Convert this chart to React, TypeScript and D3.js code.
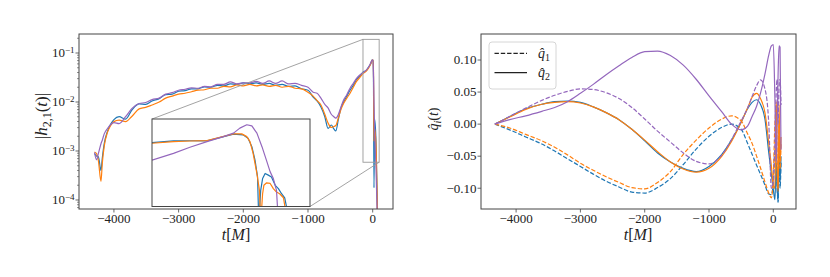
import React from "react";
import * as d3 from "d3";

// ---------- Left panel: |h_{2,1}(t)| (log scale) ----------
const tMain = [
  -4300, -4270, -4240, -4200, -4180, -4150, -4100, -4050, -4000, -3920, -3820, -3720, -3610, -3510,
  -3410, -3300, -3200, -3100, -3000, -2900, -2800, -2700, -2600, -2500, -2400, -2300, -2200, -2100,
  -2000, -1900, -1800, -1700, -1600, -1500, -1400, -1300, -1200, -1100, -1000, -920, -860, -800,
  -740, -690, -640, -600, -570, -530, -490, -450, -400, -350, -300, -250, -200, -150, -100, -60,
  -30, -10, 5, 12, 20, 30, 50, 80,
];
const ampBlue = [
  8.9e-4, 7.9e-4, 7.6e-4, 4.0e-4, 7.1e-4, 1.41e-3, 2.51e-3, 3.55e-3, 4.37e-3, 5.01e-3, 4.47e-3, 6.92e-3, 9.12e-3, 8.91e-3,
  1.05e-2, 1.17e-2, 1.41e-2, 1.45e-2, 1.66e-2, 1.70e-2, 1.86e-2, 1.86e-2, 2.04e-2, 2.0e-2, 2.19e-2, 2.14e-2, 2.34e-2, 2.29e-2,
  2.45e-2, 2.34e-2, 2.45e-2, 2.29e-2, 2.40e-2, 2.19e-2, 2.29e-2, 2.09e-2, 2.14e-2, 1.86e-2, 1.74e-2, 1.26e-2, 1.05e-2, 7.94e-3,
  5.01e-3, 2.88e-3, 3.39e-3, 2.82e-3, 2.57e-3, 4.47e-3, 7.59e-3, 1.0e-2, 1.32e-2, 1.74e-2, 2.19e-2, 2.88e-2, 3.39e-2, 4.07e-2, 4.37e-2, 5.25e-2,
  6.03e-2, 7.24e-2, 7.08e-2, 3.16e-2, 1.78e-4, 4.47e-3, 1.78e-3, 2.5e-5,
];
const ampOrange = [
  9.55e-4, 8.9e-4, 6.3e-4, 2.4e-4, 5.6e-4, 1.26e-3, 2.4e-3, 3.31e-3, 3.98e-3, 4.27e-3, 3.98e-3, 5.13e-3, 7.24e-3, 7.76e-3,
  8.71e-3, 1.0e-2, 1.2e-2, 1.32e-2, 1.45e-2, 1.51e-2, 1.62e-2, 1.74e-2, 1.78e-2, 1.91e-2, 1.91e-2, 2.09e-2, 2.04e-2, 2.24e-2,
  2.14e-2, 2.29e-2, 2.14e-2, 2.24e-2, 2.09e-2, 2.19e-2, 2.0e-2, 2.09e-2, 1.91e-2, 1.86e-2, 1.58e-2, 1.32e-2, 1.07e-2, 8.71e-3,
  5.62e-3, 3.72e-3, 3.02e-3, 3.16e-3, 3.31e-3, 4.79e-3, 7.08e-3, 9.33e-3, 1.2e-2, 1.51e-2, 2.0e-2, 2.63e-2, 3.16e-2, 3.8e-2, 4.27e-2, 5.01e-2,
  6.03e-2, 7.08e-2, 7.24e-2, 4.47e-2, 1.58e-3, 2.82e-3, 1.41e-3, 1.6e-5,
];
const ampPurple = [
  9.33e-4, 6.61e-4, 8.91e-4, 1.41e-3, 1.66e-3, 2.24e-3, 2.88e-3, 3.47e-3, 3.8e-3, 3.63e-3, 5.01e-3, 7.41e-3, 9.33e-3, 9.77e-3,
  1.12e-2, 1.2e-2, 1.45e-2, 1.55e-2, 1.74e-2, 1.82e-2, 1.95e-2, 1.91e-2, 2.09e-2, 2.04e-2, 2.29e-2, 2.29e-2, 2.57e-2, 2.34e-2,
  2.45e-2, 2.45e-2, 2.63e-2, 2.4e-2, 2.69e-2, 2.4e-2, 2.69e-2, 2.34e-2, 2.4e-2, 2.19e-2, 2.0e-2, 1.58e-2, 1.51e-2, 1.2e-2,
  8.91e-3, 7.59e-3, 5.62e-3, 5.01e-3, 4.68e-3, 5.62e-3, 7.94e-3, 1.1e-2, 1.41e-2, 1.91e-2, 2.4e-2, 3.02e-2, 3.55e-2, 3.98e-2, 4.47e-2, 5.25e-2,
  6.31e-2, 7.08e-2, 7.24e-2, 3.98e-2, 1.0e-2, 2.51e-3, 5.0e-4, 1.6e-5,
];

// Inset (zoom on merger)
const insetXDomain = [-150, 100];
const insetYDomain = [5.9e-4, 0.19];
const insetTBlue = [-150, -116, -90, -63, -21, -6, 2, 8, 13, 17, 19, 22, 25, 29, 34, 39, 45, 50, 55, 60, 66];
const insetBlue = [0.04, 0.0447, 0.0452, 0.0447, 0.0698, 0.0667, 0.0535, 0.0306, 0.0126, 0.00415, 2e-4, 0.00171, 0.00373, 0.00521, 0.00468, 0.00415, 0.00239, 0.00192, 0.00137, 0.00105, 3e-4];
const insetTOrange = [-150, -116, -90, -63, -21, -8, 0, 5, 10, 16, 20, 22, 25, 27, 31, 37, 42, 47, 52, 58, 63];
const insetOrange = [0.0384, 0.0427, 0.0445, 0.0456, 0.0711, 0.0711, 0.0594, 0.0427, 0.0197, 0.0052, 0.00171, 2e-4, 0.00137, 0.00239, 0.00279, 0.0027, 0.00192, 0.00153, 0.00137, 0.00105, 3e-4];
const insetTPurple = [-150, -116, -90, -63, -37, -21, -11, 0, 8, 16, 24, 31, 37, 42, 47, 50];
const insetPurple = [0.0126, 0.0197, 0.0294, 0.0427, 0.0594, 0.0747, 0.104, 0.13, 0.121, 0.0747, 0.0306, 0.0126, 0.0058, 0.00373, 0.00171, 2e-4];

const leftXTicks = [-4000, -3000, -2000, -1000, 0];
const leftYExponents = [-4, -3, -2, -1];

// ---------- Right panel: q_i(t) ----------
const tQ = [
  -4330, -4100, -3850, -3600, -3400, -3200, -3000, -2800, -2600, -2400, -2200, -2000, -1800, -1600,
  -1400, -1200, -1000, -800, -650, -500, -400, -330, -260, -200, -130, -70, -30, 0, 25, 45, 60, 75, 90, 105, 120,
];
const q1Blue = [
  0, -0.009, -0.02, -0.031, -0.042, -0.054, -0.066, -0.078, -0.089, -0.098, -0.106, -0.1075, -0.099, -0.085,
  -0.063, -0.039, -0.019, -0.005, 0.0, -0.008, -0.03, -0.047, -0.064, -0.078, -0.095, -0.109, -0.11, -0.09, -0.04, -0.06, -0.1, -0.122, -0.05, -0.1, -0.06,
];
const q2Blue = [
  0, 0.012, 0.024, 0.031, 0.035, 0.036, 0.034, 0.027, 0.018, 0.007, -0.008, -0.026, -0.045, -0.059,
  -0.069, -0.074, -0.066, -0.047, -0.025, 0.003, 0.024, 0.034, 0.038, 0.031, 0.008, -0.045, -0.078, -0.102, -0.118, -0.06, -0.1, -0.12, -0.03, -0.09, -0.05,
];
const q1Orange = [
  0, -0.006, -0.016, -0.026, -0.036, -0.048, -0.061, -0.072, -0.082, -0.091, -0.099, -0.101, -0.091, -0.074,
  -0.047, -0.025, -0.006, 0.008, 0.013, 0.005, -0.015, -0.03, -0.05, -0.068, -0.09, -0.108, -0.115, -0.08, 0.0, 0.03, -0.06, -0.1, 0.0, -0.07, -0.03,
];
const q2Orange = [
  0, 0.011, 0.023, 0.031, 0.034, 0.035, 0.033, 0.027, 0.018, 0.007, -0.008, -0.025, -0.043, -0.059,
  -0.07, -0.075, -0.069, -0.05, -0.027, 0.003, 0.025, 0.042, 0.048, 0.04, 0.018, -0.03, -0.065, -0.095, -0.1, 0.035, -0.07, -0.105, 0.03, -0.06, -0.02,
];
const q1Purple = [
  0, 0.012, 0.025, 0.037, 0.045, 0.051, 0.055, 0.054, 0.049, 0.04, 0.026, 0.008, -0.011, -0.028,
  -0.045, -0.058, -0.062, -0.048, -0.024, 0.005, 0.025, 0.043, 0.06, 0.069, 0.055, 0.0, -0.1, -0.09, -0.03, 0.05, 0.07, 0.0, 0.06, 0.07, 0.03,
];
const q2Purple = [
  0, 0.007, 0.013, 0.02, 0.026, 0.035, 0.048, 0.062, 0.077, 0.091, 0.104, 0.113, 0.114, 0.107,
  0.092, 0.07, 0.044, 0.019, 0.0, -0.009, -0.003, 0.012, 0.028, 0.048, 0.078, 0.108, 0.122, 0.124, 0.04, -0.06, 0.0, 0.08, 0.122, 0.12, -0.04,
];
const rightXTicks = [-4000, -3000, -2000, -1000, 0];
const rightYTicks = [-0.1, -0.05, 0, 0.05, 0.1];
const legendLabels = ["1", "2"];

const C_BLUE = "#1f77b4";
const C_ORANGE = "#ff7f0e";
const C_PURPLE = "#9467bd";
const FONT = '"Liberation Serif", "DejaVu Serif", serif';
const SPINE = "#444";
const TXT = "#222";
const minus = (v: number, s: string) => (v < 0 ? "\u2212" + s : s);

export default function App() {
  // Left axes
  const L = { x0: 79, x1: 393, y0: 34, y1: 209 };
  const xL = d3.scaleLinear().domain([-4540, 314]).range([L.x0, L.x1]);
  const yL = d3.scaleLog().domain([6.55e-5, 0.2443]).range([L.y1, L.y0]);
  const lineL = (vals: number[]) =>
    d3
      .line<number>()
      .x((_, i) => xL(tMain[i]))
      .y((v) => yL(v))
      .curve(d3.curveMonotoneX)(vals) || "";

  // Inset axes
  const I = { x0: 152, x1: 310, y0: 119, y1: 206.5 };
  const xI = d3.scaleLinear().domain(insetXDomain).range([I.x0, I.x1]);
  const yI = d3.scaleLog().domain(insetYDomain).range([I.y1, I.y0]);
  const lineI = (ts: number[], vals: number[]) =>
    d3
      .line<number>()
      .x((_, i) => xI(ts[i]))
      .y((v) => yI(v))(vals) || "";

  const rx0 = xL(insetXDomain[0]);
  const rx1 = xL(insetXDomain[1]);
  const ry0 = yL(insetYDomain[1]);
  const ry1 = yL(insetYDomain[0]);

  const minor: number[] = [];
  for (let k = -5; k <= -1; k++) {
    for (let m = 2; m <= 9; m++) {
      const v = m * Math.pow(10, k);
      if (v > 6.55e-5 && v < 0.2443) minor.push(v);
    }
  }

  // Right axes
  const R = { x0: 481, x1: 796, y0: 34, y1: 209 };
  const xR = d3.scaleLinear().domain([-4546, 353]).range([R.x0, R.x1]);
  const yR = d3.scaleLinear().domain([-0.1324, 0.1406]).range([R.y1, R.y0]);
  const lineR = (vals: number[]) =>
    d3
      .line<number>()
      .x((_, i) => xR(tQ[i]))
      .y((v) => yR(v))
      .curve(d3.curveMonotoneX)(vals) || "";

  const lw = 1.2;
  const dash = "4.4,1.9";
  const tStyle = { fontFamily: FONT };

  return (
    <svg
      width={830}
      height={277}
      style={{ position: "absolute", left: 0, top: 0, background: "#fff", fontFamily: FONT }}
    >
      <defs>
        <clipPath id="clipL">
          <rect x={L.x0} y={L.y0} width={L.x1 - L.x0} height={L.y1 - L.y0} />
        </clipPath>
        <clipPath id="clipI">
          <rect x={I.x0} y={I.y0} width={I.x1 - I.x0} height={I.y1 - I.y0} />
        </clipPath>
        <clipPath id="clipR">
          <rect x={R.x0} y={R.y0} width={R.x1 - R.x0} height={R.y1 - R.y0} />
        </clipPath>
      </defs>
      <rect x={0} y={0} width={830} height={277} fill="#fff" />

      {/* ---------- LEFT ---------- */}
      <g clipPath="url(#clipL)" fill="none" strokeWidth={lw} strokeLinejoin="round">
        <path d={lineL(ampBlue)} stroke={C_BLUE} />
        <path d={lineL(ampOrange)} stroke={C_ORANGE} />
        <path d={lineL(ampPurple)} stroke={C_PURPLE} />
      </g>
      <g stroke="#999" strokeWidth={0.9} fill="none">
        <rect x={rx0} y={ry0} width={rx1 - rx0} height={ry1 - ry0} />
        <line x1={I.x0} y1={I.y0} x2={rx0} y2={ry0} />
        <line x1={I.x1} y1={I.y1} x2={rx1} y2={ry1} />
      </g>
      <rect x={L.x0} y={L.y0} width={L.x1 - L.x0} height={L.y1 - L.y0} fill="none" stroke={SPINE} strokeWidth={1} />
      {leftXTicks.map((t) => (
        <g key={"lx" + t}>
          <line x1={xL(t)} x2={xL(t)} y1={L.y1} y2={L.y1 + 3.5} stroke={SPINE} strokeWidth={0.8} />
          <text x={xL(t)} y={223} fontSize={13} textAnchor="middle" fill={TXT} style={tStyle}>
            {minus(t, String(Math.abs(t)))}
          </text>
        </g>
      ))}
      {leftYExponents.map((e) => (
        <g key={"ly" + e}>
          <line x1={L.x0 - 3.5} x2={L.x0} y1={yL(Math.pow(10, e))} y2={yL(Math.pow(10, e))} stroke={SPINE} strokeWidth={0.8} />
          <text x={L.x0 - 4.5} y={yL(Math.pow(10, e)) + 4.3} fontSize={13} textAnchor="end" fill={TXT} style={tStyle}>
            10
            <tspan fontSize={9} dy={-4.5}>
              {"\u2212" + Math.abs(e)}
            </tspan>
          </text>
        </g>
      ))}
      {minor.map((v, i) => (
        <line key={"mn" + i} x1={L.x0 - 2} x2={L.x0} y1={yL(v)} y2={yL(v)} stroke={SPINE} strokeWidth={0.6} />
      ))}
      <text x={236} y={240} fontSize={16} textAnchor="middle" fill={TXT} style={tStyle}>
        <tspan fontStyle="italic">t</tspan>[<tspan fontStyle="italic">M</tspan>]
      </text>
      <text transform="translate(47,116) rotate(-90)" fontSize={17} textAnchor="middle" fill={TXT} style={tStyle}>
        |<tspan fontStyle="italic">h</tspan>
        <tspan fontSize={12} dy={3.5}>2,1</tspan>
        <tspan dy={-3.5}>(</tspan>
        <tspan fontStyle="italic">t</tspan>)|
      </text>

      {/* inset */}
      <rect x={I.x0} y={I.y0} width={I.x1 - I.x0} height={I.y1 - I.y0} fill="#fff" />
      <g clipPath="url(#clipI)" fill="none" strokeWidth={lw} strokeLinejoin="round">
        <path d={lineI(insetTBlue, insetBlue)} stroke={C_BLUE} />
        <path d={lineI(insetTOrange, insetOrange)} stroke={C_ORANGE} />
        <path d={lineI(insetTPurple, insetPurple)} stroke={C_PURPLE} />
      </g>
      <rect x={I.x0} y={I.y0} width={I.x1 - I.x0} height={I.y1 - I.y0} fill="none" stroke={SPINE} strokeWidth={1} />

      {/* ---------- RIGHT ---------- */}
      <g clipPath="url(#clipR)" fill="none" strokeWidth={lw} strokeLinejoin="round">
        <path d={lineR(q1Blue)} stroke={C_BLUE} strokeDasharray={dash} />
        <path d={lineR(q2Blue)} stroke={C_BLUE} />
        <path d={lineR(q1Orange)} stroke={C_ORANGE} strokeDasharray={dash} />
        <path d={lineR(q2Orange)} stroke={C_ORANGE} />
        <path d={lineR(q1Purple)} stroke={C_PURPLE} strokeDasharray={dash} />
        <path d={lineR(q2Purple)} stroke={C_PURPLE} />
      </g>
      <rect x={R.x0} y={R.y0} width={R.x1 - R.x0} height={R.y1 - R.y0} fill="none" stroke={SPINE} strokeWidth={1} />
      {rightXTicks.map((t) => (
        <g key={"rx" + t}>
          <line x1={xR(t)} x2={xR(t)} y1={R.y1} y2={R.y1 + 3.5} stroke={SPINE} strokeWidth={0.8} />
          <text x={xR(t)} y={223} fontSize={13} textAnchor="middle" fill={TXT} style={tStyle}>
            {minus(t, String(Math.abs(t)))}
          </text>
        </g>
      ))}
      {rightYTicks.map((v) => (
        <g key={"ry" + v}>
          <line x1={R.x0 - 3.5} x2={R.x0} y1={yR(v)} y2={yR(v)} stroke={SPINE} strokeWidth={0.8} />
          <text x={R.x0 - 4.5} y={yR(v) + 4.3} fontSize={13} textAnchor="end" fill={TXT} style={tStyle}>
            {minus(v < -1e-9 ? -1 : 1, Math.abs(v).toFixed(2))}
          </text>
        </g>
      ))}
      <text x={638} y={240} fontSize={16} textAnchor="middle" fill={TXT} style={tStyle}>
        <tspan fontStyle="italic">t</tspan>[<tspan fontStyle="italic">M</tspan>]
      </text>
      <text transform="translate(438,119) rotate(-90)" fontSize={14} textAnchor="middle" fill={TXT} style={tStyle}>
        <tspan fontStyle="italic">{"q\u0302"}</tspan>
        <tspan fontSize={10} dy={3} fontStyle="italic">i</tspan>
        <tspan dy={-3}>(</tspan>
        <tspan fontStyle="italic">t</tspan>)
      </text>

      {/* legend */}
      <rect x={489} y={42} width={67} height={47} rx={3} fill="#fff" fillOpacity={0.8} stroke="#ccc" strokeWidth={0.8} />
      {legendLabels.map((lab, i) => {
        const y = 53.3 + i * 19.4;
        return (
          <g key={"lg" + lab}>
            <line x1={494.5} x2={527} y1={y} y2={y} stroke="#222" strokeWidth={lw} strokeDasharray={i === 0 ? dash : undefined} />
            <text x={538} y={y + 4.7} fontSize={14} fill={TXT} style={tStyle}>
              <tspan fontStyle="italic">{"q\u0302"}</tspan>
              <tspan fontSize={10} dy={3}>{lab}</tspan>
            </text>
          </g>
        );
      })}
    </svg>
  );
}
